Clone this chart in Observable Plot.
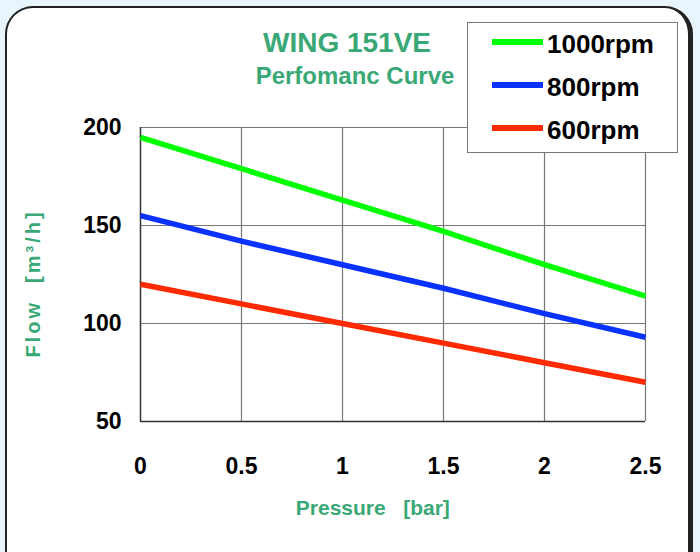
<!DOCTYPE html>
<html>
<head>
<meta charset="utf-8">
<script src="https://cdn.jsdelivr.net/npm/d3@7"></script>
<script src="https://cdn.jsdelivr.net/npm/@observablehq/plot@0.6"></script>
<style>
  html, body { margin: 0; padding: 0; }
  body { width: 700px; height: 552px; background: #e9f5fd; overflow: hidden; font-family: "Liberation Sans", Arial, sans-serif; }
  #wrap { position: relative; width: 700px; height: 552px; }
  #card { position: absolute; left: 5px; top: 6px; width: 688px; height: 600px; background: #fff;
          border: 2px solid #222; border-right-width: 5px; border-radius: 28px; box-sizing: border-box; }
  #chart { position: absolute; left: 0; top: 0; }
  .title { position: absolute; color: #3aa876; font-weight: bold; white-space: nowrap; transform: translateX(-50%); line-height: 1.15; }
  #legend { position: absolute; left: 467px; top: 22px; width: 211px; height: 131px; background: #fff;
            border: 1.5px solid #777; box-sizing: border-box; }
  .item { position: absolute; left: 24px; height: 30px; display: flex; align-items: center; }
  .item .sw { width: 51px; height: 6px; margin-right: 4px; }
  .item span { font-weight: bold; font-size: 26px; color: #000; position: relative; top: 2px; }
  .ylab text { letter-spacing: 3px; }
</style>
</head>
<body>
<div id="wrap">
  <div id="card"></div>
  <div id="chart"></div>
  <div class="title" style="left:347px; top:27px; font-size:28px;">WING 151VE</div>
  <div class="title" style="left:355px; top:62px; font-size:24px;">Perfomanc Curve</div>
  <div id="legend"></div>
</div>
<script>
const pressure = [0, 0.5, 1, 1.5, 2, 2.5];
const flow1000 = [195, 179, 163, 147, 130, 114];
const flow800 = [155, 142, 130, 118, 105, 93];
const flow600 = [120, 110, 100, 90, 80, 70];
const seriesNames = ["1000rpm", "800rpm", "600rpm"];
const seriesColors = ["#00ff00", "#0a32ff", "#ff2a00"];
const xTicks = [0, 0.5, 1, 1.5, 2, 2.5];
const yTicks = [50, 100, 150, 200];

const rows = [];
[flow1000, flow800, flow600].forEach((vals, i) => {
  vals.forEach((v, j) => rows.push({ series: seriesNames[i], pressure: pressure[j], flow: v }));
});

const green = "#3aa876";
const plot = Plot.plot({
  width: 700,
  height: 552,
  marginLeft: 140,
  marginRight: 55,
  marginTop: 127,
  marginBottom: 131,
  style: { background: "transparent", fontFamily: "Liberation Sans, Arial, sans-serif", overflow: "visible" },
  x: { domain: [0, 2.5] },
  y: { domain: [50, 200] },
  color: { domain: seriesNames, range: seriesColors },
  marks: [
    Plot.ruleX(xTicks.slice(1), { stroke: "#777", strokeWidth: 1.2 }),
    Plot.ruleY(yTicks.slice(1), { stroke: "#777", strokeWidth: 1.2 }),
    Plot.ruleX([0], { stroke: "#333", strokeWidth: 1.5 }),
    Plot.ruleY([50], { stroke: "#333", strokeWidth: 1.5 }),
    Plot.line(rows, { x: "pressure", y: "flow", z: "series", stroke: "series", strokeWidth: 5.5, strokeLinecap: "butt" }),
    Plot.axisX(xTicks, { tickSize: 0, tickPadding: 36, fontSize: 23, fontWeight: "bold", fill: "#000", label: null, tickFormat: d => String(d) }),
    Plot.axisY(yTicks, { tickSize: 0, tickPadding: 19, fontSize: 23, fontWeight: "bold", fill: "#000", label: null }),
    Plot.text(["Pressure   [bar]"], { frameAnchor: "bottom", x: 1.15, dy: 93, fill: green, fontSize: 21, fontWeight: "bold" }),
    Plot.text(["Flow  [m³/h]"], { frameAnchor: "left", textAnchor: "middle", dx: -107, dy: 9, rotate: -90, fill: green, fontSize: 20, fontWeight: "bold", className: "ylab" })
  ]
});
document.getElementById("chart").appendChild(plot);

const legend = document.getElementById("legend");
seriesNames.forEach((name, i) => {
  const it = document.createElement("div");
  it.className = "item";
  it.style.top = (4 + i * 43) + "px";
  it.innerHTML = `<div class="sw" style="background:${seriesColors[i]}"></div><span>${name}</span>`;
  legend.appendChild(it);
});
</script>
</body>
</html>
